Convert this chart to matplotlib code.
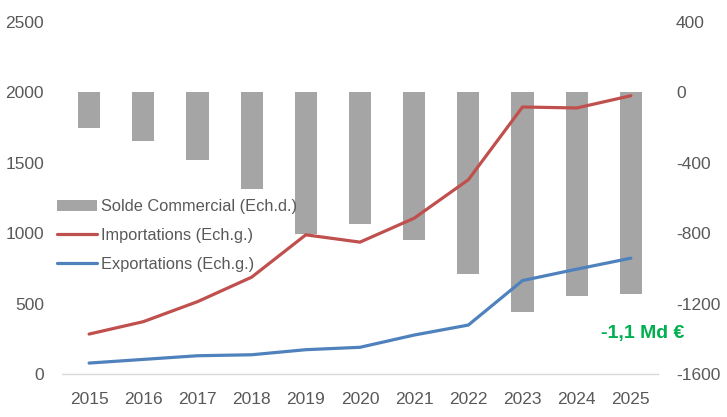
import numpy as np
import matplotlib
matplotlib.use('Agg')
import matplotlib.pyplot as plt

plt.rcParams['font.family'] = ['Liberation Sans', 'DejaVu Sans']
plt.rcParams['axes.unicode_minus'] = False

# Données
years = ['2015', '2016', '2017', '2018', '2019', '2020', '2021', '2022', '2023', '2024', '2025']
importations = [284, 372, 514, 688, 989, 937, 1107, 1380, 1897, 1890, 1977]
exportations = [78, 104, 130, 137, 173, 190, 277, 348, 664, 745, 823]
solde = [-202, -273, -385, -548, -804, -747, -838, -1033, -1246, -1155, -1147]

left_ticks = [0, 500, 1000, 1500, 2000, 2500]
right_ticks = [-1600, -1200, -800, -400, 0, 400]

txt_color = '#595959'
x = np.arange(len(years))

fig = plt.figure(figsize=(7.27, 4.17), dpi=100)
ax = fig.add_axes([0.0853, 0.103, 0.8197, 0.844])
ax2 = ax.twinx()

# barres sur l'axe de droite, en dessous des courbes
bars = ax2.bar(x, solde, width=0.41, color='#A5A5A5', label='Solde Commercial (Ech.d.)')
ax.set_zorder(ax2.get_zorder() + 1)
ax.patch.set_visible(False)

l_imp, = ax.plot(x, importations, color='#C0504D', linewidth=2.3, label='Importations (Ech.g.)',
                 solid_capstyle='round')
l_exp, = ax.plot(x, exportations, color='#4F81BD', linewidth=2.3, label='Exportations (Ech.g.)',
                 solid_capstyle='round')

ax.set_xlim(-0.5, len(years) - 0.5)
ax.set_ylim(0, 2500)
ax2.set_ylim(-1600, 400)
ax.set_yticks(left_ticks)
ax2.set_yticks(right_ticks)
ax.set_xticks(x)
ax.set_xticklabels(years)

for a in (ax, ax2):
    for s in a.spines.values():
        s.set_visible(False)
ax.spines['bottom'].set_visible(True)
ax.spines['bottom'].set_color('#D9D9D9')
ax.spines['bottom'].set_linewidth(1.0)

ax.tick_params(axis='x', length=0, pad=13, labelsize=12.5, labelcolor=txt_color)
ax.tick_params(axis='y', length=0, pad=13, labelsize=12.5, labelcolor=txt_color)
ax2.tick_params(axis='y', length=0, pad=13, labelsize=12.5, labelcolor=txt_color)

ax.legend(handles=[bars, l_imp, l_exp], loc='upper left', bbox_to_anchor=(-0.019, 0.515),
          frameon=False, fontsize=11.8, labelcolor=txt_color, handlelength=2.4,
          handletextpad=0.3, labelspacing=0.84, borderaxespad=0)

ax.text(1.044, 0.116, '-1,1 Md €', transform=ax.transAxes, ha='right', va='center',
        color='#00B050', fontsize=14, fontweight='bold')

fig.savefig('out.png', dpi=100)
